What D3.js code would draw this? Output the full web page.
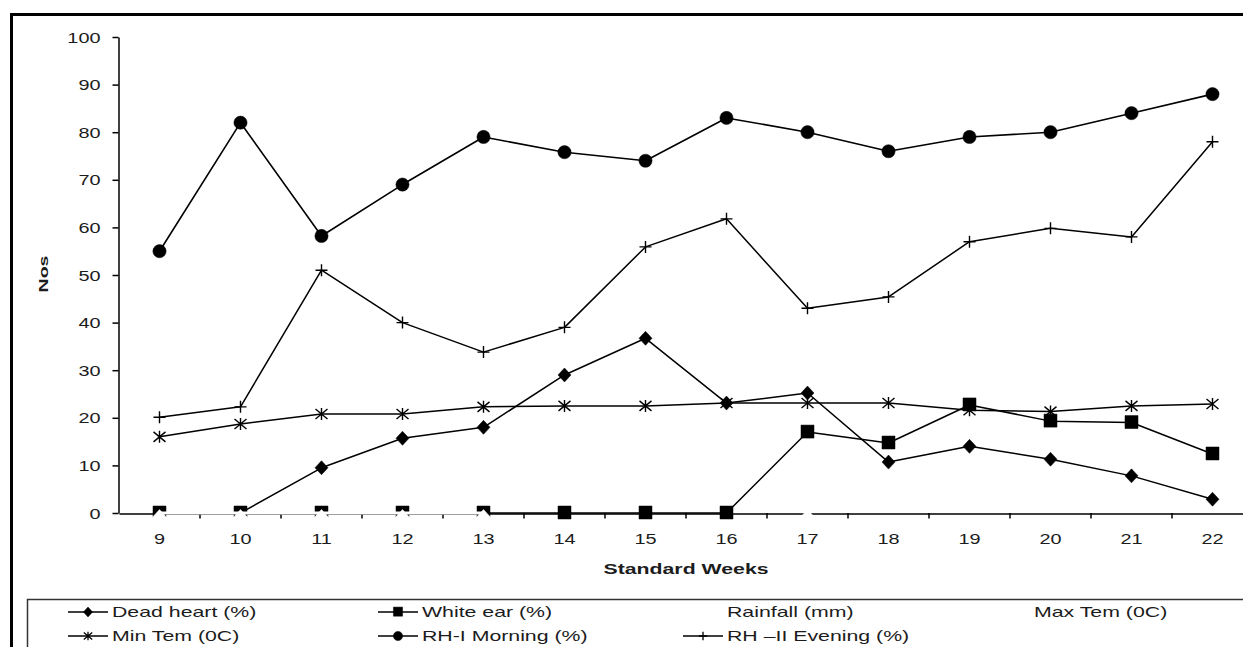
<!DOCTYPE html>
<html><head><meta charset="utf-8">
<script src="https://cdn.jsdelivr.net/npm/d3@7"></script>
<style>
body{margin:0;background:#fff}
svg{display:block}
text{font-family:"Liberation Sans",Arial,sans-serif;fill:#1c1c1c}
</style>
</head><body>
<svg id="chart" width="1243" height="647"></svg>
<script>
// ---- data ----
const weeks = [9, 10, 11, 12, 13, 14, 15, 16, 17, 18, 19, 20, 21, 22];
const yTicks = [0, 10, 20, 30, 40, 50, 60, 70, 80, 90, 100];
const deadHeart = [0, 0, 9.5, 15.7, 18, 29, 36.7, 23.1, 25.2, 10.7, 14, 11.3, 7.8, 2.9];
const whiteEar  = [0, 0, 0, 0, 0, 0, 0, 0, 17, 14.7, 22.7, 19.3, 19, 12.4];
// Rainfall is drawn in white in the original; only its zero points show (as gaps)
const rainfall  = [0, 0, 0, 0, 0, null, null, null, 0, null, null, null, null, null];
const minTem    = [16, 18.7, 20.8, 20.8, 22.3, 22.5, 22.5, 23.1, 23.1, 23.1, 21.6, 21.3, 22.5, 22.9];
const rhMorning = [55, 82, 58.2, 69, 79, 75.8, 74, 83, 80, 76, 79, 80, 84, 88];
const rhEvening = [20.1, 22.3, 51, 40, 33.8, 39, 55.9, 61.8, 43, 45.4, 57, 59.8, 58, 78];
const legendNames = ["Dead heart (%)", "White ear (%)", "Rainfall (mm)", "Max Tem (0C)",
                     "Min Tem (0C)", "RH-I Morning (%)", "RH \u2013II Evening (%)"];
const xTitle = "Standard Weeks";
const yTitle = "Nos";

// ---- layout ----
const svg = d3.select("#chart");
const x = d3.scaleBand().domain(weeks).range([119, 1253]);
const y = d3.scaleLinear().domain([0, 100]).range([513, 37]);
const cx = w => x(w) + x.bandwidth() / 2;
const SX = 1.42;

// outer frame
svg.append("rect").attr("x", 11.5).attr("y", 14.5).attr("width", 1400).attr("height", 800)
  .attr("fill", "none").attr("stroke", "#000").attr("stroke-width", 3);

// y axis
const yAx = svg.append("g").attr("transform", "translate(118.5,0)")
  .call(d3.axisLeft(y).tickValues(yTicks).tickSize(6).tickSizeOuter(0).tickFormat(d3.format("d")));
yAx.select(".domain").attr("stroke", "#000").attr("stroke-width", 1.5);
yAx.selectAll(".tick line").attr("stroke", "#000").attr("stroke-width", 1.5);
yAx.selectAll(".tick text").attr("x", 0).attr("dy", "0.36em")
  .attr("transform", `translate(-18,0) scale(${SX},1)`)
  .style("font-size", "14px").attr("fill", "#1c1c1c");

// x axis: labels at band centres, tick marks at band boundaries
const xAx = svg.append("g").attr("transform", "translate(0,513.5)")
  .call(d3.axisBottom(x).tickSize(0).tickSizeOuter(0));
xAx.select(".domain").attr("stroke", "#000").attr("stroke-width", 1.5);
xAx.selectAll(".tick text").attr("y", 0).attr("dy", "0.36em")
  .attr("transform", `translate(0,25) scale(${SX},1)`)
  .style("font-size", "14px").attr("fill", "#1c1c1c");
svg.append("g").selectAll("line").data(weeks.slice(1).concat(["end"])).join("line")
  .attr("x1", d => d === "end" ? x.range()[1] : x(d)).attr("x2", d => d === "end" ? x.range()[1] : x(d))
  .attr("y1", 513).attr("y2", 518.5).attr("stroke", "#000").attr("stroke-width", 1.5);

// axis titles
svg.append("text").attr("transform", `translate(686,569) scale(1.52,1)`)
  .attr("text-anchor", "middle").attr("dy", "0.36em")
  .style("font-size", "14px").style("font-weight", "bold").text(xTitle);
svg.append("text").attr("transform", `translate(43,274) rotate(-90) scale(1.5,1)`)
  .attr("text-anchor", "middle").attr("dy", "0.36em")
  .style("font-size", "13px").style("font-weight", "bold").text(yTitle);

// ---- marker shapes ----
function markerPath(type, k) {
  switch (type) {
    case "diamond": return `M0,${-7*k}L${6.5*k},0L0,${7*k}L${-6.5*k},0Z`;
    case "square": return `M${-6.5*k},${-7*k}h${13*k}v${13*k}h${-13*k}Z`;
    case "triangle": return `M0,${-3.5*k}L${10*k},${7.5*k}L${-10*k},${7.5*k}Z`;
    case "circle": return d3.symbol(d3.symbolCircle, Math.PI * (6.6*k) * (6.6*k))();
    case "plus": return `M${-6*k},0H${6*k}M0,${-6*k}V${6*k}`;
    case "asterisk": return `M${-6*k},${-5*k}L${6*k},${5*k}M${-6*k},${5*k}L${6*k},${-5*k}M0,${-6*k}V${6*k}`;
  }
  return "";
}
const series = [
  {vals: deadHeart, type: "diamond", color: "#000", fill: "#000", lw: 1.5},
  {vals: whiteEar, type: "square", color: "#000", fill: "#000", lw: 1.5},
  {vals: rainfall, type: "triangle", color: "#fff", fill: "#fff", lw: 3},
  {vals: minTem, type: "asterisk", color: "#000", fill: "none", lw: 1.5},
  {vals: rhMorning, type: "circle", color: "#000", fill: "#000", lw: 1.6},
  {vals: rhEvening, type: "plus", color: "#000", fill: "none", lw: 1.5}
];
const line = d3.line().defined(d => d.v != null).x(d => cx(d.w)).y(d => y(d.v));
const plot = svg.append("g");
series.forEach(s => {
  const pts = weeks.map((w, i) => ({w, v: s.vals[i]}));
  plot.append("path").datum(pts).attr("d", line).attr("fill", "none")
    .attr("stroke", s.color).attr("stroke-width", s.lw).attr("stroke-linejoin", "round");
  plot.append("g").selectAll("path").data(pts.filter(d => d.v != null)).join("path")
    .attr("transform", d => `translate(${cx(d.w)},${y(d.v)})`)
    .attr("d", markerPath(s.type, 1))
    .attr("fill", s.fill).attr("stroke", s.color)
    .attr("stroke-width", s.type === "plus" || s.type === "asterisk" ? 1.4 : (s.color === "#fff" ? 0.5 : 0.5));
});

// ---- legend ----
const lg = svg.append("g");
lg.append("rect").attr("x", 27.5).attr("y", 599.5).attr("width", 1400).attr("height", 200)
  .attr("fill", "none").attr("stroke", "#333").attr("stroke-width", 1.5);
const legendTypes = ["diamond", "square", null, null, "asterisk", "circle", "plus"];
const colX = [68, 378, 683, 990];
const rowY = [612, 636];
legendNames.forEach((name, i) => {
  const col = i < 4 ? i : i - 4, row = i < 4 ? 0 : 1;
  const lx = colX[col], ly = rowY[row];
  const g = lg.append("g");
  if (legendTypes[i]) {
    g.append("line").attr("x1", lx).attr("x2", lx + 40).attr("y1", ly).attr("y2", ly)
      .attr("stroke", "#000").attr("stroke-width", 1.5);
    const t = legendTypes[i];
    g.append("path").attr("transform", `translate(${lx + 20},${ly})`)
      .attr("d", markerPath(t, 0.7))
      .attr("fill", t === "plus" || t === "asterisk" ? "none" : "#000")
      .attr("stroke", "#000").attr("stroke-width", t === "plus" || t === "asterisk" ? 1.3 : 0.5);
  }
  g.append("text").attr("transform", `translate(${lx + 44},${ly}) scale(1.42,1)`)
    .attr("dy", "0.36em").style("font-size", "15px").text(name);
});
</script>
</body></html>
